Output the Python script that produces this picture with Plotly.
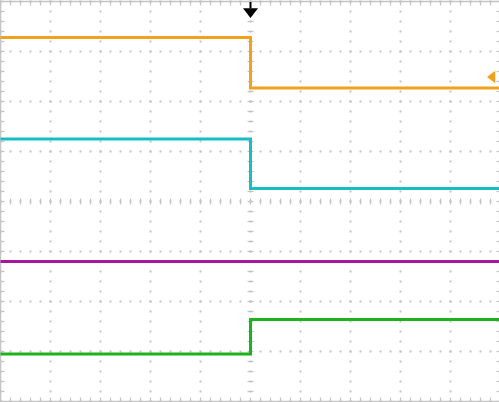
import numpy as np
import plotly.graph_objects as go

# ---- data (divisions; time axis: trigger at 0) ----
time_div = [-5.0, 0.0, 5.0]
ch1_orange = [3.28, 2.27, 2.27]
ch2_cyan = [1.25, 0.26, 0.26]
ch3_purple = [-1.20, -1.20, -1.20]
ch4_green = [-3.05, -2.36, -2.36]
ref_marker_x = [4.84]
ref_marker_y = [2.49]
trigger_x = [0.0]

GRID = "#c4c4c4"
fig = go.Figure()

# graticule dots along major lines
dx, dy = [], []
for gx in range(-5, 6):
    for v in np.arange(-4, 4.001, 0.2):
        dx.append(gx); dy.append(v)
for gy in range(-4, 5):
    for v in np.arange(-5, 5.001, 0.2):
        dx.append(v); dy.append(gy)
fig.add_trace(go.Scatter(x=dx, y=dy, mode="markers",
                         marker=dict(symbol="square", size=2, color=GRID, line=dict(width=0)),
                         hoverinfo="skip", showlegend=False))

# borders
bx = [-5, 5, 5, -5, -5]
by = [-4, -4, 4, 4, -4]
fig.add_trace(go.Scatter(x=bx, y=by, mode="lines", line=dict(color=GRID, width=1.5),
                         hoverinfo="skip", showlegend=False))

# border ticks and centre-line ticks
tx, ty = [], []
L = 0.08
for v in np.arange(-5, 5.001, 0.2):
    tx += [v, v, None, v, v, None, v, v, None]
    ty += [4, 4 - L, None, -4, -4 + L, None, -0.06, 0.06, None]
for v in np.arange(-4, 4.001, 0.2):
    tx += [-5, -5 + L, None, 5, 5 - L, None, -0.06, 0.06, None]
    ty += [v, v, None, v, v, None, v, v, None]
fig.add_trace(go.Scatter(x=tx, y=ty, mode="lines", line=dict(color=GRID, width=1.2),
                         hoverinfo="skip", showlegend=False))

# channel traces
for vals, col in [(ch1_orange, "#f2a11c"), (ch2_cyan, "#18bdc3"),
                  (ch3_purple, "#a3189f"), (ch4_green, "#1cb21c")]:
    fig.add_trace(go.Scatter(x=time_div, y=vals, mode="lines", line_shape="hv",
                             line=dict(color=col, width=3), hoverinfo="skip", showlegend=False))

# reference marker (orange, right edge)
fig.add_trace(go.Scatter(x=ref_marker_x, y=ref_marker_y, mode="markers",
                         marker=dict(symbol="triangle-left", size=11, color="#f2a11c"),
                         hoverinfo="skip", showlegend=False))

# trigger marker at top
fig.add_trace(go.Scatter(x=trigger_x * 2, y=[3.99, 3.86], mode="lines",
                         line=dict(color="black", width=2), hoverinfo="skip", showlegend=False))
fig.add_trace(go.Scatter(x=trigger_x, y=[3.80], mode="markers",
                         marker=dict(symbol="triangle-down", size=13, color="black"),
                         hoverinfo="skip", showlegend=False))

fig.update_layout(
    width=499, height=402, margin=dict(l=0, r=0, t=0, b=0),
    paper_bgcolor="white", plot_bgcolor="white",
    xaxis=dict(range=[-5.01, 4.97], visible=False, fixedrange=True),
    yaxis=dict(range=[-4.01, 4.03], visible=False, fixedrange=True),
)
fig.write_html("out.html", config={"displayModeBar": False},
               post_script="document.body.style.margin='0px';document.body.style.overflow='hidden';")
